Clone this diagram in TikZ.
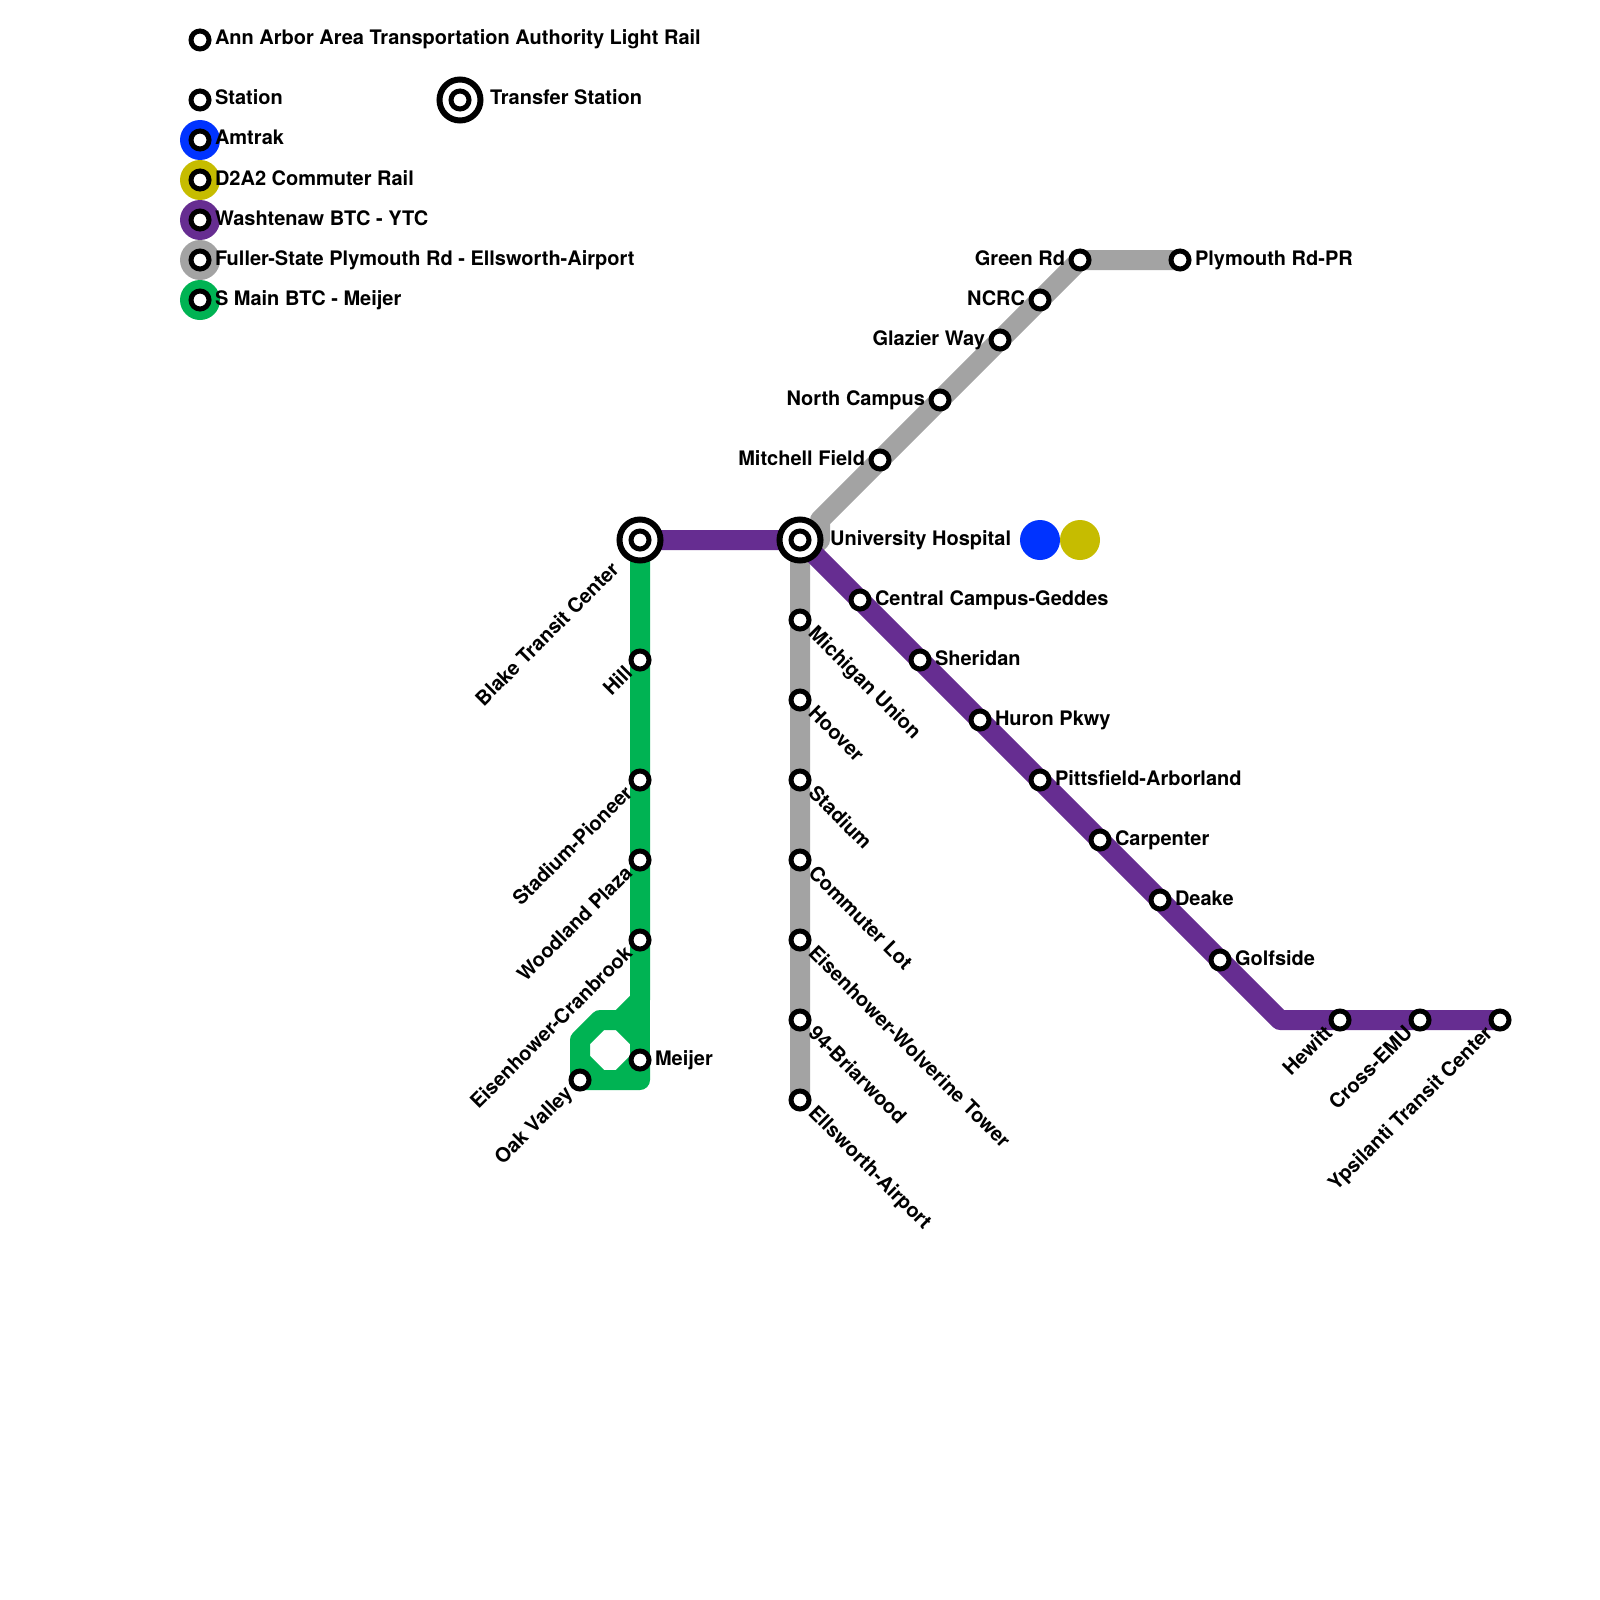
\documentclass[tikz,border=0pt]{standalone}
\usepackage{fontspec}
\setmainfont{TeX Gyre Heros}
\usepackage{xcolor}
\usetikzlibrary{backgrounds}
\definecolor{amtrakblue}{RGB}{0,51,255}
\definecolor{daayellow}{RGB}{198,188,0}
\definecolor{washpurple}{RGB}{102,45,145}
\definecolor{fullergray}{RGB}{163,163,163}
\definecolor{mainzgreen}{RGB}{0,179,83}
\tikzset{
  route/.style={line width=20pt, line join=round},
  stationmark/.style={circle, draw=black, fill=white, line width=5pt, minimum size=18pt, inner sep=0pt, outer sep=0pt},
  transfermark/.style={circle, draw=black, fill=white, line width=6pt, minimum size=41pt, inner sep=0pt, outer sep=0pt},
  disc/.style={circle, minimum size=40pt, inner sep=0pt, outer sep=0pt},
  lbl/.style={font=\bfseries\fontsize{20}{22}\selectfont, inner sep=0pt, outer sep=0pt, text height=14pt, text depth=4pt},
  lblright/.style={lbl, anchor=west, xshift=15pt, yshift=0pt},
  lblleft/.style={lbl, anchor=east, xshift=-15pt, yshift=0pt},
  lbldown/.style={lbl, anchor=west, xshift=11pt, yshift=-11pt, rotate=-45},
  lblup/.style={lbl, anchor=east, xshift=-10pt, yshift=-11pt, rotate=45},
}
\begin{document}
\begin{tikzpicture}[x=1pt, y=-1pt]
\useasboundingbox (0,0) rectangle (1600,1600);
% key
\node[disc, fill=amtrakblue] (keyamtrak) at (200,140) {};
\node[disc, fill=daayellow] (keydaa) at (200,180) {};
\node[disc, fill=washpurple] (keywash) at (200,220) {};
\node[disc, fill=fullergray] (keyfuller) at (200,260) {};
\node[disc, fill=mainzgreen] (keymain) at (200,300) {};
\node[stationmark] (keytitle) at (200,40) {};
\node[stationmark] (keystation) at (200,100) {};
\node[stationmark] (markamtrak) at (keyamtrak) {};
\node[stationmark] (markdaa) at (keydaa) {};
\node[stationmark] (markwash) at (keywash) {};
\node[stationmark] (markfuller) at (keyfuller) {};
\node[stationmark] (markmain) at (keymain) {};
\node[transfermark] (keytransfer) at (460,100) {};
\node[stationmark] (marktransfer) at (keytransfer) {};
\node[lblright] (t0) at (keytitle) {Ann Arbor Area Transportation Authority Light Rail};
\node[lblright] (t1) at (keystation) {Station};
\node[lblright, xshift=15pt] (t2) at (keytransfer) {Transfer Station};
\node[lblright] (t3) at (keyamtrak) {Amtrak};
\node[lblright] (t4) at (keydaa) {D2A2 Commuter Rail};
\node[lblright] (t5) at (keywash) {Washtenaw BTC - YTC};
\node[lblright] (t6) at (keyfuller) {Fuller-State Plymouth Rd - Ellsworth-Airport};
\node[lblright] (t7) at (keymain) {S Main BTC - Meijer};
% turning points
\coordinate (g1) at (640,1000);
\coordinate (g2) at (620,1020);
\coordinate (g3) at (600,1020);
\coordinate (g4) at (580,1040);
\coordinate (g5) at (640,1040);
\coordinate (g6) at (640,1080);
\coordinate (g7) at (620,1080);
\coordinate (g8) at (600,1080);
\coordinate (g9) at (580,1060);
\coordinate (y1) at (820,520);
\coordinate (y2) at (820,540);
\coordinate (y3) at (800,560);
\coordinate (p1) at (1280,1020);
% stations
\node[transfermark] (btc) at (640,540) {};
\node[stationmark] (btcmark) at (btc) {};
\node[transfermark] (uh) at (800,540) {};
\node[stationmark] (uhmark) at (uh) {};
\node[stationmark] (hill) at (640,660) {};
\node[stationmark] (pioneer) at (640,780) {};
\node[stationmark] (woodland) at (640,860) {};
\node[stationmark] (cranbrook) at (640,940) {};
\node[stationmark] (meijer) at (640,1060) {};
\node[stationmark] (oak) at (580,1080) {};
\node[stationmark] (union) at (800,620) {};
\node[stationmark] (hoover) at (800,700) {};
\node[stationmark] (stadium) at (800,780) {};
\node[stationmark] (commuter) at (800,860) {};
\node[stationmark] (wolverine) at (800,940) {};
\node[stationmark] (briarwood) at (800,1020) {};
\node[stationmark] (airport) at (800,1100) {};
\node[stationmark] (mitchell) at (880,460) {};
\node[stationmark] (north) at (940,400) {};
\node[stationmark] (glazier) at (1000,340) {};
\node[stationmark] (ncrc) at (1040,300) {};
\node[stationmark] (green) at (1080,260) {};
\node[stationmark] (plymouth) at (1180,260) {};
\node[stationmark] (central) at (860,600) {};
\node[stationmark] (sheridan) at (920,660) {};
\node[stationmark] (huron) at (980,720) {};
\node[stationmark] (pitts) at (1040,780) {};
\node[stationmark] (carpenter) at (1100,840) {};
\node[stationmark] (deake) at (1160,900) {};
\node[stationmark] (golfside) at (1220,960) {};
\node[stationmark] (hewitt) at (1340,1020) {};
\node[stationmark] (cross) at (1420,1020) {};
\node[stationmark] (ypsi) at (1500,1020) {};
\node[disc, fill=amtrakblue] (uhamtrak) at (1040,540) {};
\node[disc, fill=daayellow] (uhdaa) at (1080,540) {};
% labels
\node[lblup, xshift=-21pt, yshift=-2pt] (lbtc) at (btc) {Blake Transit Center};
\node[lblup] (lhill) at (hill) {Hill};
\node[lblup] (lpioneer) at (pioneer) {Stadium-Pioneer};
\node[lblup] (lwoodland) at (woodland) {Woodland Plaza};
\node[lblup] (lcranbrook) at (cranbrook) {Eisenhower-Cranbrook};
\node[lblright] (lmeijer) at (meijer) {Meijer};
\node[lblup] (loak) at (oak) {Oak Valley};
\node[lblright, xshift=15pt] (luh) at (uh) {University Hospital};
\node[lbldown] (lunion) at (union) {Michigan Union};
\node[lbldown] (lhoover) at (hoover) {Hoover};
\node[lbldown] (lstadium) at (stadium) {Stadium};
\node[lbldown] (lcommuter) at (commuter) {Commuter Lot};
\node[lbldown] (lwolverine) at (wolverine) {Eisenhower-Wolverine Tower};
\node[lbldown] (lbriarwood) at (briarwood) {94-Briarwood};
\node[lbldown] (lairport) at (airport) {Ellsworth-Airport};
\node[lblleft] (lmitchell) at (mitchell) {Mitchell Field};
\node[lblleft] (lnorth) at (north) {North Campus};
\node[lblleft] (lglazier) at (glazier) {Glazier Way};
\node[lblleft] (lncrc) at (ncrc) {NCRC};
\node[lblleft] (lgreen) at (green) {Green Rd};
\node[lblright] (lplymouth) at (plymouth) {Plymouth Rd-PR};
\node[lblright] (lcentral) at (central) {Central Campus-Geddes};
\node[lblright] (lsheridan) at (sheridan) {Sheridan};
\node[lblright] (lhuron) at (huron) {Huron Pkwy};
\node[lblright] (lpitts) at (pitts) {Pittsfield-Arborland};
\node[lblright] (lcarpenter) at (carpenter) {Carpenter};
\node[lblright] (ldeake) at (deake) {Deake};
\node[lblright] (lgolfside) at (golfside) {Golfside};
\node[lblup] (lhewitt) at (hewitt) {Hewitt};
\node[lblup] (lcross) at (cross) {Cross-EMU};
\node[lblup] (lypsi) at (ypsi) {Ypsilanti Transit Center};
% routes
\begin{pgfonlayer}{background}
\draw[route, fullergray] (plymouth.center) -- (green.center) -- (y1) -- (y2) -- (y3) -- (airport.center);
\draw[route, washpurple] (btc.center) -- (uh.center) -- (p1) -- (ypsi.center);
\draw[route, mainzgreen] (btc.center) -- (g1) -- (g2) -- (g3) -- (g4) -- (oak.center) -- (g6) -- (meijer.center) -- (g7);
\draw[route, mainzgreen] (g1) -- (g6);
\draw[route, mainzgreen] (g2) -- (g5);
\draw[route, mainzgreen] (g8) -- (g9);
\end{pgfonlayer}
\end{tikzpicture}
\end{document}
